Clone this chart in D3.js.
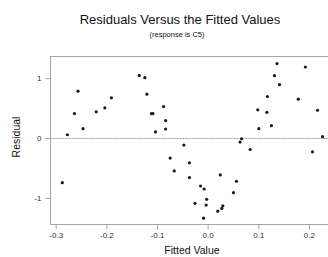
<!DOCTYPE html>
<html>
<head>
<meta charset="utf-8">
<script src="https://cdn.jsdelivr.net/npm/d3@7"></script>
<style>
  body { margin: 0; background: #fff; }
  text { font-family: "Liberation Sans", Arial, sans-serif; }
</style>
</head>
<body>
<div id="chart"></div>
<script>
// fitted values and residuals
var fitted = [-0.256, -0.190, -0.263, -0.220, -0.203, -0.246, -0.277, -0.287,
    -0.135, -0.124, -0.120, -0.087, -0.111, -0.108, -0.083, -0.083, -0.103, -0.047,
    -0.074, -0.036, -0.066, -0.036,
    0.099, 0.101, 0.067, 0.064, 0.084, 0.025, 0.057, -0.014, -0.007, 0.051,
    -0.025, -0.002, -0.003, 0.030, 0.028, 0.020, -0.008,
    0.137, 0.193, 0.132, 0.142, 0.118, 0.179, 0.217, 0.117, 0.126, 0.227, 0.207];
var residual = [0.783, 0.672, 0.408, 0.437, 0.504, 0.156, 0.055, -0.746,
    1.047, 1.008, 0.733, 0.526, 0.408, 0.408, 0.291, 0.151, 0.101, -0.118,
    -0.336, -0.415, -0.550, -0.662,
    0.471, 0.156, -0.012, -0.067, -0.192, -0.617, -0.723, -0.802, -0.852, -0.914,
    -1.092, -1.025, -1.121, -1.133, -1.176, -1.222, -1.339,
    1.244, 1.187, 1.042, 0.891, 0.694, 0.649, 0.464, 0.430, 0.207, 0.022, -0.230];
var xTicks = [-0.3, -0.2, -0.1, 0.0, 0.1, 0.2];
var yTicks = [-1, 0, 1];

var width = 328,
    height = 257;

var mLeft = 50.5, mRight = 331, mTop = 56.5, mBottom = 224.5;

var x = d3.scaleLinear().domain([-0.3103, 0.2436]).range([mLeft, mRight]);
var y = d3.scaleLinear().domain([-1.4455, 1.3625]).range([mBottom, mTop]);

// plain hyphen minus like the original
var fmt1 = function (d) { return d3.format(".1f")(d).replace("\u2212", "-"); };
var fmt0 = function (d) { return d3.format("d")(d).replace("\u2212", "-"); };

var svg = d3.select("#chart").append("svg")
    .attr("width", width)
    .attr("height", height)

// frame
svg.append("rect")
    .attr("x", mLeft).attr("y", mTop)
    .attr("width", mRight - mLeft).attr("height", mBottom - mTop)
    .attr("fill", "none")
    .attr("stroke", "#a6a6a6")
    .attr("stroke-width", 1)

// reference line at zero
svg.append("line")
    .attr("x1", mLeft).attr("x2", mRight)
    .attr("y1", Math.round(y(0)) + 0.5).attr("y2", Math.round(y(0)) + 0.5)
    .attr("stroke", "#9a9a9a")
    .attr("stroke-dasharray", "2,1")

svg.append("g")
    .attr("transform", "translate(0," + mBottom + ")")
    .call(d3.axisBottom(x).tickValues(xTicks).tickSize(5).tickPadding(3)
        .tickFormat(fmt1))
svg.append("g")
    .attr("transform", "translate(" + mLeft + ",0)")
    .call(d3.axisLeft(y).tickValues(yTicks).tickSize(5).tickPadding(4)
        .tickFormat(fmt0))

svg.selectAll(".domain").remove()
svg.selectAll(".tick line").attr("stroke", "#a6a6a6")
svg.selectAll(".tick text")
    .attr("fill", "#333")
    .style("font-size", "8px")
    .style("font-family", "Liberation Sans, Arial, sans-serif")

// points
svg.selectAll(".dot")
    .data(fitted.map(function (d, i) { return [d, residual[i]]; }))
    .enter().append("circle")
    .attr("class", "dot")
    .attr("cx", function (d) { return x(d[0]); })
    .attr("cy", function (d) { return y(d[1]); })
    .attr("r", 1.6)
    .attr("fill", "#1a1a1a")

// titles
svg.append("text")
    .attr("x", 180).attr("y", 24)
    .attr("text-anchor", "middle")
    .style("font-size", "13px")
    .attr("fill", "#111")
    .text("Residuals Versus the Fitted Values")
svg.append("text")
    .attr("x", 177).attr("y", 37)
    .attr("text-anchor", "middle")
    .style("font-size", "7.5px")
    .attr("fill", "#111")
    .text("(response is C5)")
svg.append("text")
    .attr("x", 192).attr("y", 254)
    .attr("text-anchor", "middle")
    .style("font-size", "10.5px")
    .attr("fill", "#111")
    .text("Fitted Value")
svg.append("text")
    .attr("transform", "translate(20,137) rotate(-90)")
    .attr("text-anchor", "middle")
    .style("font-size", "10.5px")
    .attr("fill", "#111")
    .text("Residual")
</script>
</body>
</html>
